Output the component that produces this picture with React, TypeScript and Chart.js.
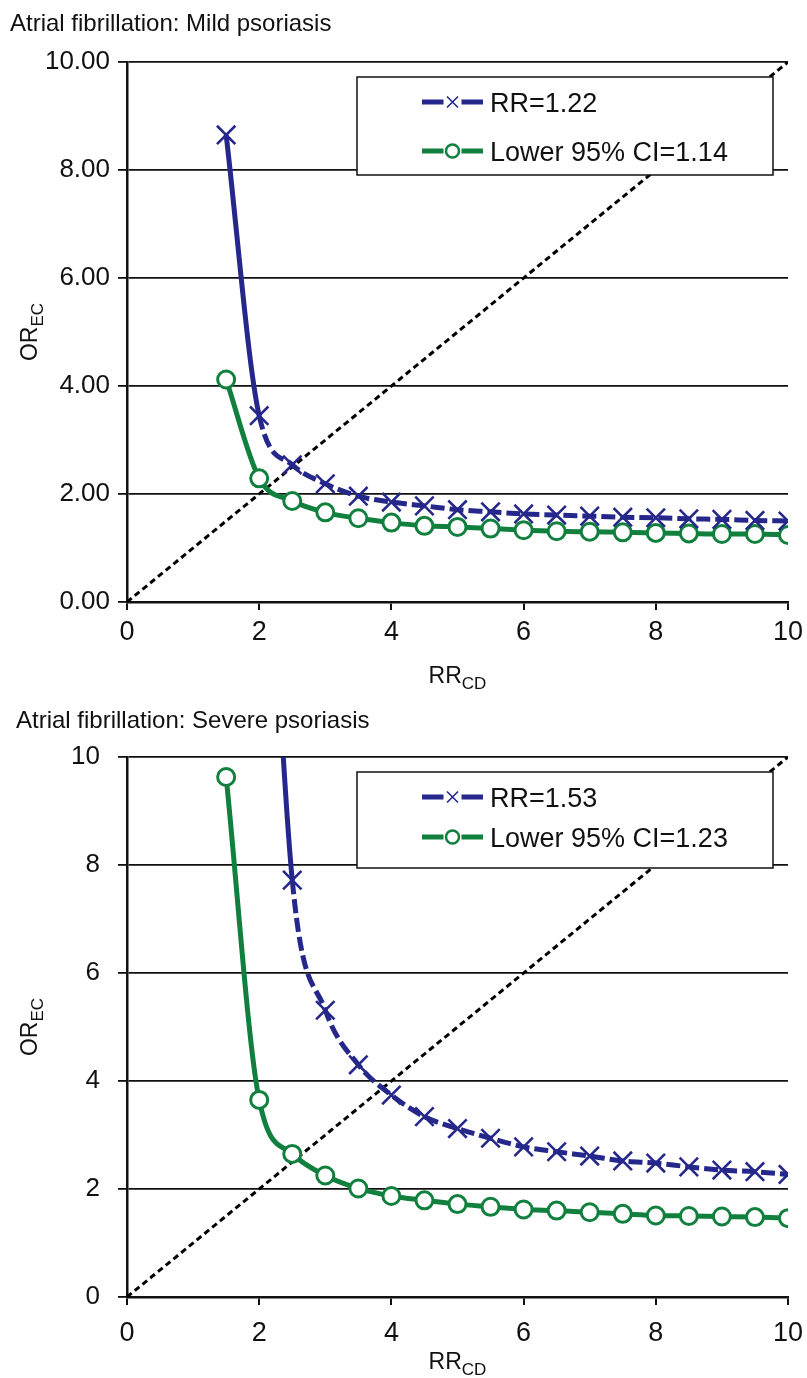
import React, { useEffect, useRef } from 'react';
import { Chart, registerables } from 'chart.js';

Chart.register(...registerables);

// ---------------- data ----------------
const xValues = [1.5, 2, 2.5, 3, 3.5, 4, 4.5, 5, 5.5, 6, 6.5, 7, 7.5, 8, 8.5, 9, 9.5, 10];

const mildRR = [8.65, 3.45, 2.54, 2.19, 1.96, 1.85, 1.78, 1.71, 1.67, 1.63, 1.61, 1.59, 1.57, 1.56, 1.54, 1.53, 1.51, 1.50];
const mildLower = [4.12, 2.29, 1.87, 1.66, 1.55, 1.47, 1.41, 1.39, 1.36, 1.33, 1.31, 1.30, 1.29, 1.28, 1.27, 1.26, 1.26, 1.24];

const severeRR = [null, 18, 7.72, 5.31, 4.30, 3.74, 3.34, 3.12, 2.94, 2.78, 2.69, 2.61, 2.52, 2.48, 2.41, 2.35, 2.32, 2.27];
const severeLower = [9.63, 3.65, 2.65, 2.25, 2.01, 1.87, 1.79, 1.72, 1.67, 1.62, 1.60, 1.57, 1.54, 1.51, 1.50, 1.49, 1.48, 1.46];

const diagonalX = [0, 10];
const diagonalY = [0, 10];

const xTicks = [0, 2, 4, 6, 8, 10];
const yTicks = [0, 2, 4, 6, 8, 10];

const mildTitle = 'Atrial fibrillation: Mild psoriasis';
const severeTitle = 'Atrial fibrillation: Severe psoriasis';
const mildLabels = ['RR=1.22', 'Lower 95% CI=1.14'];
const severeLabels = ['RR=1.53', 'Lower 95% CI=1.23'];

// ---------------- styles ----------------
const FONT = "'Liberation Sans', Arial, Helvetica, sans-serif";
const BLUE = '#25288a';
const GREEN = '#11803e';
const INK = '#111111';

Chart.defaults.font.family = FONT;

type PanelCfg = {
  title: string;
  labels: string[];
  rr: (number | null)[];
  lower: (number | null)[];
  decimals: number;
  top: number;
  height: number;
  padTop: number;
  xAxisHeight: number;
  titleX: number;
  titleBaseline: number;
  yTickPad: number;
  xTickPad: number;
  xTitleOffset: number;
  yTitleX: number;
  legendH: number;
  legendRows: number[];
};

function drawSub(ctx: CanvasRenderingContext2D, main: string, sub: string, cx: number, baseline: number) {
  ctx.font = `23px ${FONT}`;
  const wm = ctx.measureText(main).width;
  ctx.font = `17px ${FONT}`;
  const ws = ctx.measureText(sub).width;
  const x0 = cx - (wm + ws) / 2;
  ctx.textAlign = 'left';
  ctx.textBaseline = 'alphabetic';
  ctx.font = `23px ${FONT}`;
  ctx.fillText(main, x0, baseline);
  ctx.font = `17px ${FONT}`;
  ctx.fillText(sub, x0 + wm, baseline + 6);
}

const decorPlugin = {
  id: 'decor',
  afterDraw(chart: any, _args: any, opts: any) {
    const { ctx, chartArea: ca } = chart;
    ctx.save();
    ctx.fillStyle = INK;

    // chart title
    ctx.font = `24px ${FONT}`;
    ctx.textAlign = 'left';
    ctx.textBaseline = 'alphabetic';
    ctx.fillText(opts.title, opts.titleX, opts.titleBaseline);

    // x axis title
    drawSub(ctx, 'RR', 'CD', (ca.left + ca.right) / 2, ca.bottom + opts.xTitleOffset);

    // y axis title
    ctx.save();
    ctx.translate(opts.yTitleX, (ca.top + ca.bottom) / 2);
    ctx.rotate(-Math.PI / 2);
    drawSub(ctx, 'OR', 'EC', 0, 0);
    ctx.restore();

    // legend box
    const bx = ca.left + 230;
    const by = ca.top + 15;
    const bw = ca.right - 15 - bx;
    const bh = opts.legendH;
    ctx.fillStyle = '#ffffff';
    ctx.fillRect(bx, by, bw, bh);
    ctx.strokeStyle = INK;
    ctx.lineWidth = 1.5;
    ctx.strokeRect(bx, by, bw, bh);

    const ds = chart.data.datasets;
    for (let i = 0; i < 2; i++) {
      const d = ds[i];
      const y = by + opts.legendRows[i];
      const x0 = bx + 65;
      const x1 = bx + 126;
      const cx = (x0 + x1) / 2;
      ctx.strokeStyle = d.borderColor;
      ctx.lineWidth = 5;
      ctx.setLineDash([]);
      ctx.beginPath();
      ctx.moveTo(x0, y);
      ctx.lineTo(cx - 9, y);
      ctx.moveTo(cx + 9, y);
      ctx.lineTo(x1, y);
      ctx.stroke();
      if (d.pointStyle === 'crossRot') {
        ctx.lineWidth = 1.6;
        ctx.beginPath();
        ctx.moveTo(cx - 5.5, y - 5.5);
        ctx.lineTo(cx + 5.5, y + 5.5);
        ctx.moveTo(cx - 5.5, y + 5.5);
        ctx.lineTo(cx + 5.5, y - 5.5);
        ctx.stroke();
      } else {
        ctx.fillStyle = '#ffffff';
        ctx.lineWidth = 2.5;
        ctx.beginPath();
        ctx.arc(cx, y, 6.5, 0, Math.PI * 2);
        ctx.fill();
        ctx.stroke();
      }
      ctx.fillStyle = INK;
      ctx.font = `27px ${FONT}`;
      ctx.textAlign = 'left';
      ctx.textBaseline = 'alphabetic';
      ctx.fillText(d.label, bx + 133, y + 0.358 * 27);
    }
    ctx.restore();
  },
};

function toPoints(ys: (number | null)[]) {
  return xValues.map((x, i) => ({ x, y: ys[i] }));
}

function firstIndex(ys: (number | null)[]) {
  return ys.findIndex((v) => v !== null);
}

function buildConfig(cfg: PanelCfg): any {
  const rrStart = firstIndex(cfg.rr);
  return {
    type: 'line',
    data: {
      datasets: [
        {
          label: cfg.labels[0],
          data: toPoints(cfg.rr),
          borderColor: BLUE,
          backgroundColor: BLUE,
          borderWidth: 5,
          borderDash: [14, 5],
          segment: {
            borderDash: (c: any) => (c.p0DataIndex === rrStart ? [] : [14, 5]),
          },
          cubicInterpolationMode: 'monotone',
          pointStyle: 'crossRot',
          pointRadius: 13,
          pointBorderWidth: 2.6,
          pointBorderColor: BLUE,
          pointBackgroundColor: BLUE,
          spanGaps: false,
        },
        {
          label: cfg.labels[1],
          data: toPoints(cfg.lower),
          borderColor: GREEN,
          backgroundColor: '#ffffff',
          borderWidth: 5,
          cubicInterpolationMode: 'monotone',
          pointStyle: 'circle',
          pointRadius: 8.5,
          pointBorderWidth: 3,
          pointBorderColor: GREEN,
          pointBackgroundColor: '#ffffff',
        },
        {
          label: 'reference',
          data: diagonalX.map((x, i) => ({ x, y: diagonalY[i] })),
          borderColor: '#000000',
          borderWidth: 3,
          borderDash: [6, 4],
          pointRadius: 0,
          tension: 0,
        },
      ],
    },
    options: {
      animation: false,
      responsive: false,
      devicePixelRatio: 1,
      events: [],
      layout: { padding: { top: cfg.padTop, right: 19, left: 0, bottom: 0 } },
      plugins: {
        legend: { display: false },
        tooltip: { enabled: false },
        title: { display: false },
        decor: {
          title: cfg.title,
          titleX: cfg.titleX,
          titleBaseline: cfg.titleBaseline,
          xTitleOffset: cfg.xTitleOffset,
          yTitleX: cfg.yTitleX,
          legendH: cfg.legendH,
          legendRows: cfg.legendRows,
        },
      },
      scales: {
        x: {
          type: 'linear',
          min: 0,
          max: 10,
          afterBuildTicks: (s: any) => {
            s.ticks = xTicks.map((v) => ({ value: v }));
          },
          afterFit: (s: any) => {
            s.height = cfg.xAxisHeight;
            s.paddingRight = 0;
            s.paddingLeft = 0;
          },
          ticks: {
            color: INK,
            font: { size: 27, family: FONT },
            padding: cfg.xTickPad,
            maxRotation: 0,
            autoSkip: false,
            callback: (v: number) => String(v),
          },
          grid: { drawOnChartArea: false, drawTicks: true, tickLength: 8, color: INK, lineWidth: 2 },
          border: { display: true, color: INK, width: 2.5 },
        },
        y: {
          type: 'linear',
          min: 0,
          max: 10,
          afterBuildTicks: (s: any) => {
            s.ticks = yTicks.map((v) => ({ value: v }));
          },
          afterFit: (s: any) => {
            s.width = 127;
          },
          ticks: {
            color: INK,
            font: { size: 26, family: FONT },
            padding: cfg.yTickPad,
            callback: (v: number) => Number(v).toFixed(cfg.decimals),
          },
          grid: { color: INK, lineWidth: 1.8, tickLength: 9 },
          border: { display: true, color: INK, width: 2.5 },
        },
      },
    },
    plugins: [decorPlugin],
  };
}

const panels: PanelCfg[] = [
  {
    title: mildTitle,
    labels: mildLabels,
    rr: mildRR,
    lower: mildLower,
    decimals: 2,
    top: 0,
    height: 690,
    padTop: 62,
    xAxisHeight: 88,
    titleX: 10,
    titleBaseline: 31,
    yTickPad: 8,
    xTickPad: 6,
    xTitleOffset: 81,
    yTitleX: 37,
    legendH: 98,
    legendRows: [25, 74],
  },
  {
    title: severeTitle,
    labels: severeLabels,
    rr: severeRR,
    lower: severeLower,
    decimals: 0,
    top: 690,
    height: 688,
    padTop: 67,
    xAxisHeight: 81,
    titleX: 16,
    titleBaseline: 38,
    yTickPad: 18,
    xTickPad: 12,
    xTitleOffset: 72,
    yTitleX: 37,
    legendH: 96,
    legendRows: [25, 65],
  },
];

function Panel({ cfg }: { cfg: PanelCfg }) {
  const ref = useRef<HTMLCanvasElement>(null);
  useEffect(() => {
    const chart = new Chart(ref.current as HTMLCanvasElement, buildConfig(cfg));
    return () => chart.destroy();
  }, [cfg]);
  return (
    <canvas
      ref={ref}
      width={807}
      height={cfg.height}
      style={{ position: 'absolute', left: 0, top: cfg.top, width: 807, height: cfg.height, display: 'block' }}
    />
  );
}

export default function App() {
  return (
    <div style={{ position: 'absolute', left: 0, top: 0, width: 807, height: 1378, background: '#ffffff', overflow: 'hidden' }}>
      {panels.map((p, i) => (
        <Panel key={i} cfg={p} />
      ))}
    </div>
  );
}
